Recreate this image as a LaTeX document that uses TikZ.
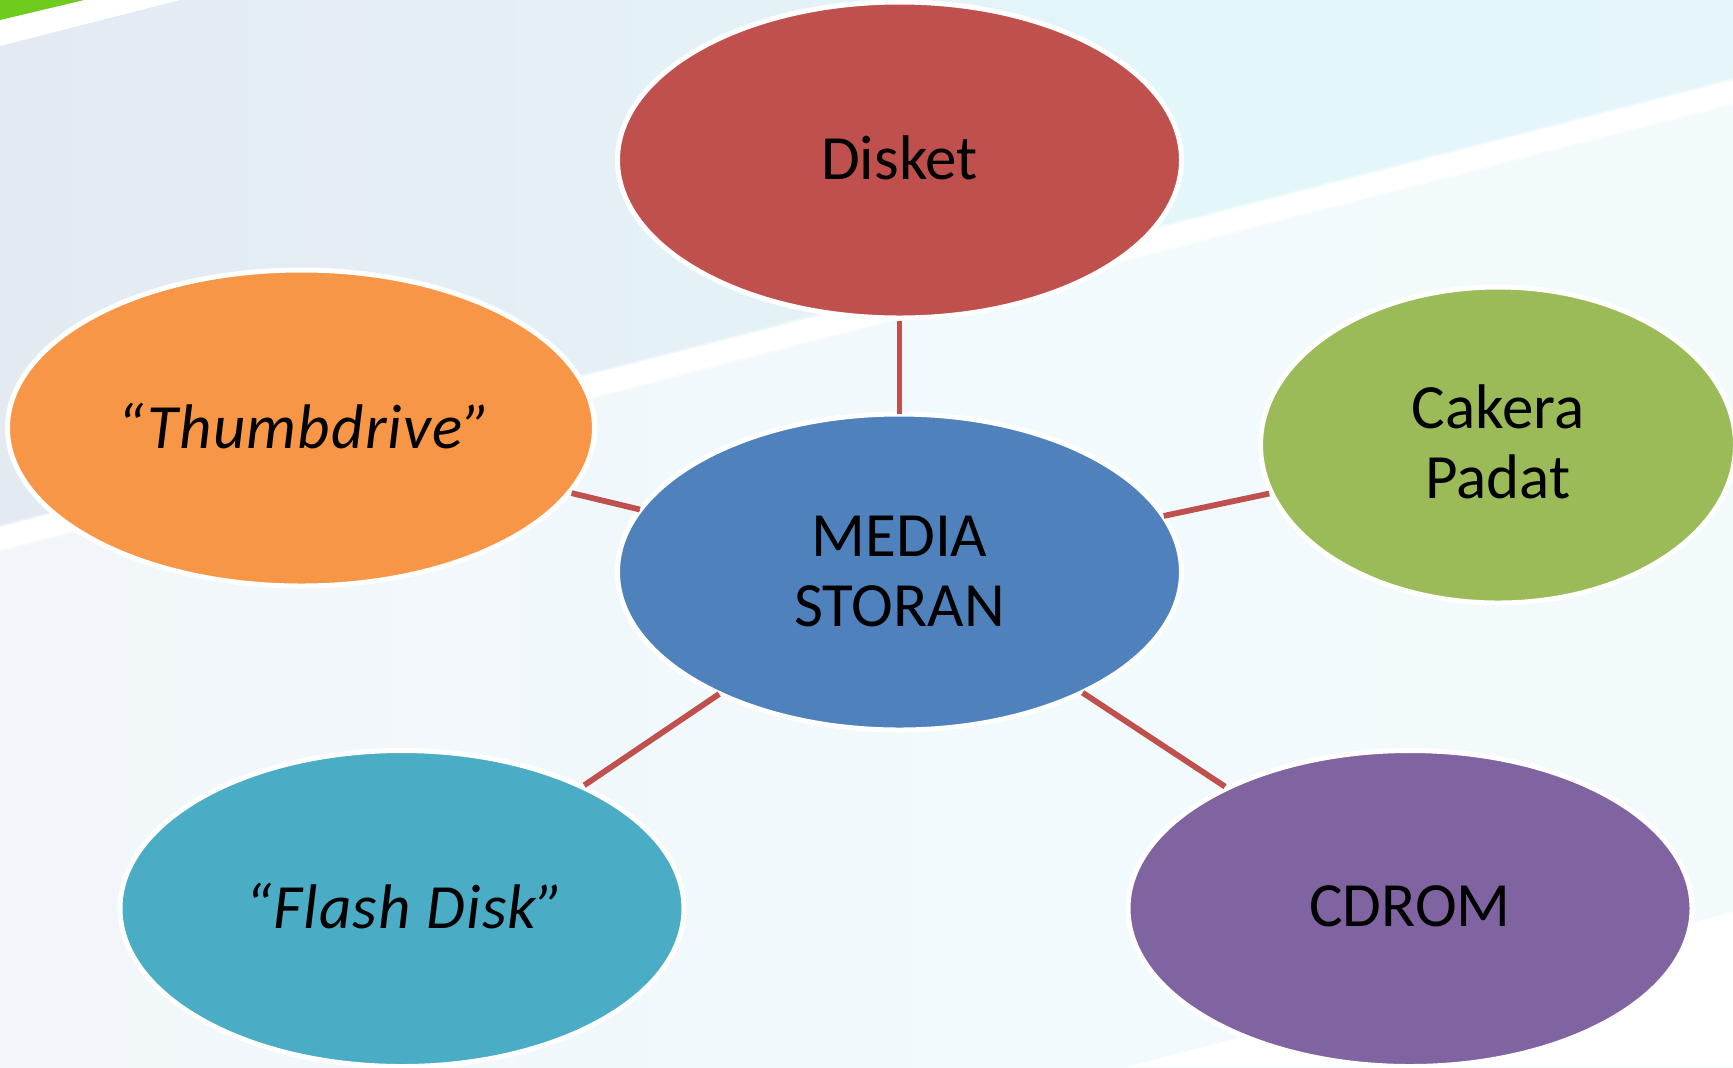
\documentclass[tikz,border=0pt]{standalone}
\usepackage{fontspec}
\setmainfont{Carlito}
\usetikzlibrary{shapes.geometric}
\definecolor{upa}{RGB}{227,234,242}
\definecolor{upb}{RGB}{228,240,246}
\definecolor{upc}{RGB}{227,247,251}
\definecolor{upd}{RGB}{229,245,250}
\definecolor{loa}{RGB}{242,246,250}
\definecolor{lob}{RGB}{241,250,253}
\definecolor{loc}{RGB}{243,250,252}
\pgfdeclarehorizontalshading{bgupper}{100bp}{
  color(0bp)=(upa); color(25bp)=(upa); color(42bp)=(upb);
  color(60bp)=(upc); color(75bp)=(upd); color(100bp)=(upd)}
\pgfdeclarehorizontalshading{bglower}{100bp}{
  color(0bp)=(loa); color(25bp)=(loa); color(55bp)=(lob);
  color(75bp)=(loc); color(100bp)=(loc)}
\definecolor{linkred}{RGB}{192,80,77}
\definecolor{cblue}{RGB}{79,129,189}
\definecolor{corange}{RGB}{247,150,70}
\definecolor{cgreen}{RGB}{155,187,89}
\definecolor{cteal}{RGB}{75,172,198}
\definecolor{cpurple}{RGB}{128,100,162}
\definecolor{cornergreen}{RGB}{112,204,28}
\newcommand{\liftstrut}{\rule[-2.5pt]{0pt}{2.5pt}}
\newcommand{\liftstrutb}{\rule[-1pt]{0pt}{1pt}}
\newcommand{\liftstrutc}{\rule[-3.5pt]{0pt}{3.5pt}}
\newcommand{\slanted}{\itshape\addfontfeature{LetterSpace=2}\hspace*{3pt}}
\tikzset{
  bubble/.style={ellipse, draw=white, line width=2.5pt, inner sep=0pt, text=black,
    align=center, font=\fontsize{31.5}{35}\selectfont},
  wide/.style={minimum width=282pt, minimum height=158pt},
  link/.style={draw=linkred, line width=2.9pt}
}
\begin{document}
\begin{tikzpicture}[x=0.5pt,y=-0.5pt]
\useasboundingbox (0,0) rectangle (1733,1067);
\clip (0,0) rectangle (1733,1067);
% background
\shade[shading=bglower] (0,0) rectangle (1733,1067);
\shade[shading=bgupper] (0,0) -- (1733,0) -- (1733,80) -- (0,527) -- cycle;
\fill[white,opacity=.45] (0,525) -- (1733,78) -- (1733,105) -- (0,552) -- cycle;
\fill[white] (0,527) -- (1733,80) -- (1733,103) -- (0,550) -- cycle;
\fill[white] (0,20) -- (84,0) -- (180,0) -- (0,46) -- cycle;
\fill[cornergreen] (0,0) -- (84,0) -- (0,20) -- cycle;
\fill[white] (1125,1067) -- (1733,912) -- (1733,1067) -- cycle;
% nodes
\node[bubble,wide,fill=linkred] (disket) at (899.5,160) {Disket\liftstrut};
\node[bubble,wide,fill=cblue,outer sep=0.25pt] (media) at (899.5,572) {MEDIA\\STORAN\liftstrutb};
\node[bubble,minimum width=293.5pt,minimum height=158pt,fill=corange] (thumb) at (301,428) {\slanted “Thumbdrive”\liftstrut};
\node[bubble,minimum width=237.5pt,minimum height=158pt,fill=cgreen] (cakera) at (1498,445) {Cakera\\Padat\liftstrutc};
\node[bubble,wide,fill=cteal] (flash) at (402,908.5) {\slanted “Flash Disk”\liftstrut};
\node[bubble,wide,fill=cpurple] (cdrom) at (1410,908.5) {CDROM\liftstrut};
% connectors
\draw[link] (disket) -- (media);
\draw[link] (thumb) -- (media);
\draw[link] (media) -- (cakera);
\draw[link] (media) -- (flash);
\draw[link] (media) -- (cdrom);
\end{tikzpicture}
\end{document}
